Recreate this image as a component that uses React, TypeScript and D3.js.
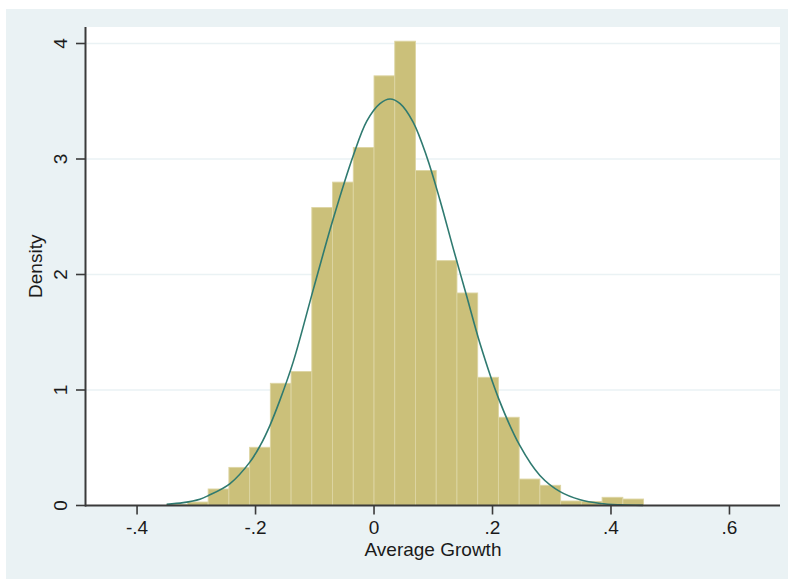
import React from "react";
import * as d3 from "d3";

// Histogram bins (lower edge, width) and densities
const binLower = [
  -0.35, -0.315, -0.28, -0.245, -0.21, -0.175, -0.14, -0.105, -0.07, -0.035,
  0.0, 0.035, 0.07, 0.105, 0.14, 0.175, 0.21, 0.245, 0.28, 0.315, 0.35, 0.385, 0.42,
];
const binWidth = 0.035;
const density = [
  0.01, 0.03, 0.143, 0.33, 0.504, 1.058, 1.16, 2.58, 2.8, 3.1,
  3.72, 4.02, 2.9, 2.12, 1.84, 1.11, 0.764, 0.229, 0.175, 0.039, 0.035, 0.071, 0.056,
];

// Normal density overlay
const curveX = [
  -0.35, -0.322, -0.294, -0.28, -0.243, -0.209, -0.192, -0.176, -0.159, -0.136,
  -0.102, -0.069, -0.035, -0.012, 0.01, 0.027, 0.044, 0.066, 0.089, 0.111,
  0.134, 0.156, 0.179, 0.21, 0.246, 0.28, 0.314, 0.348, 0.382, 0.415, 0.454,
];
const curveY = [
  0.01, 0.025, 0.055, 0.085, 0.19, 0.38, 0.52, 0.69, 0.91, 1.25,
  1.88, 2.48, 3.03, 3.33, 3.48, 3.52, 3.48, 3.32, 3.02, 2.65,
  2.22, 1.82, 1.4, 0.93, 0.52, 0.26, 0.12, 0.05, 0.018, 0.006, 0.001,
];

const xTicks = [-0.4, -0.2, 0, 0.2, 0.4, 0.6];
const xTickLabels = ["-.4", "-.2", "0", ".2", ".4", ".6"];
const yTicks = [0, 1, 2, 3, 4];
const yTickLabels = ["0", "1", "2", "3", "4"];
const xTitle = "Average Growth";
const yTitle = "Density";

const W = 788;
const H = 581;
const plot = { left: 86, right: 780, top: 27, bottom: 505.5 };
const font = "'Liberation Sans', Arial, Helvetica, sans-serif";

export default function App() {
  const x = d3.scaleLinear().domain([-0.4862, 0.6853]).range([plot.left, plot.right]);
  const y = d3.scaleLinear().domain([0, 4.1429]).range([plot.bottom, plot.top]);

  const line = d3
    .line<number>()
    .x((_, i) => x(curveX[i]))
    .y((_, i) => y(curveY[i]))
    .curve(d3.curveCatmullRom.alpha(0.5));

  const axisColor = "#3a3a3a";
  const textColor = "#1a1a1a";

  return (
    <svg
      width={W}
      height={H}
      style={{ position: "absolute", left: 0, top: 0 }}
      xmlns="http://www.w3.org/2000/svg"
    >
      <rect x={0} y={0} width={W} height={H} fill="#ffffff" />
      <rect x={6} y={9} width={W - 6} height={570} fill="#EAF2F4" />
      <rect
        x={plot.left}
        y={plot.top}
        width={plot.right - plot.left}
        height={plot.bottom - plot.top}
        fill="#ffffff"
      />
      {/* gridlines */}
      {yTicks
        .filter((t) => t > 0)
        .map((t) => (
          <line
            key={"g" + t}
            x1={plot.left}
            x2={plot.right}
            y1={y(t)}
            y2={y(t)}
            stroke="#EAF2F4"
            strokeWidth={1.6}
          />
        ))}
      {/* bars */}
      {binLower.map((b, i) => (
        <rect
          key={"b" + i}
          x={x(b)}
          y={y(density[i])}
          width={x(b + binWidth) - x(b)}
          height={y(0) - y(density[i])}
          fill="#CBC07A"
          stroke="#DDD5A3"
          strokeWidth={0.9}
        />
      ))}
      {/* normal curve */}
      <path d={line(curveY) || ""} fill="none" stroke="#2F7A70" strokeWidth={1.6} />
      {/* axes */}
      <line
        x1={plot.left - 0.5}
        x2={plot.left - 0.5}
        y1={plot.top}
        y2={plot.bottom + 1}
        stroke={axisColor}
        strokeWidth={2}
      />
      <line
        x1={plot.left - 1}
        x2={plot.right}
        y1={plot.bottom}
        y2={plot.bottom}
        stroke={axisColor}
        strokeWidth={2}
      />
      {yTicks.map((t, i) => (
        <g key={"yt" + t}>
          <line
            x1={76}
            x2={plot.left - 0.5}
            y1={y(t)}
            y2={y(t)}
            stroke={axisColor}
            strokeWidth={1.6}
          />
          <text
            transform={`translate(66.5, ${y(t)}) rotate(-90)`}
            textAnchor="middle"
            fontFamily={font}
            fontSize={19}
            fill={textColor}
          >
            {yTickLabels[i]}
          </text>
        </g>
      ))}
      {xTicks.map((t, i) => (
        <g key={"xt" + t}>
          <line
            x1={x(t)}
            x2={x(t)}
            y1={plot.bottom}
            y2={plot.bottom + 9}
            stroke={axisColor}
            strokeWidth={1.6}
          />
          <text
            x={x(t)}
            y={533.5}
            textAnchor="middle"
            fontFamily={font}
            fontSize={19}
            fill={textColor}
          >
            {xTickLabels[i]}
          </text>
        </g>
      ))}
      <text
        x={(plot.left + plot.right) / 2}
        y={555.5}
        textAnchor="middle"
        fontFamily={font}
        fontSize={19}
        fill={textColor}
      >
        {xTitle}
      </text>
      <text
        transform={`translate(42, ${(plot.top + plot.bottom) / 2}) rotate(-90)`}
        textAnchor="middle"
        fontFamily={font}
        fontSize={19}
        fill={textColor}
      >
        {yTitle}
      </text>
    </svg>
  );
}
